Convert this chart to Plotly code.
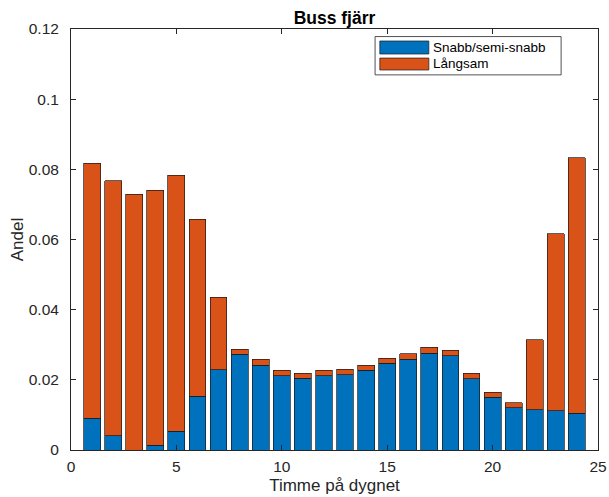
import plotly.graph_objects as go

hours = list(range(1, 25))
snabb = [0.0090, 0.0040, 0.0000, 0.0014, 0.0054, 0.0153, 0.0229, 0.0273,
         0.0242, 0.0211, 0.0204, 0.0211, 0.0214, 0.0227, 0.0247, 0.0259,
         0.0276, 0.0269, 0.0203, 0.0150, 0.0120, 0.0115, 0.0112, 0.0105]
total = [0.0818, 0.0767, 0.0729, 0.0741, 0.0783, 0.0658, 0.0435, 0.0287,
         0.0258, 0.0227, 0.0219, 0.0227, 0.0230, 0.0242, 0.0261, 0.0275,
         0.0293, 0.0284, 0.0219, 0.0164, 0.0135, 0.0314, 0.0616, 0.0833]
langsam = [round(t - s, 4) for t, s in zip(total, snabb)]

series_names = ["Snabb/semi-snabb", "Långsam"]
colors = ["#0072BD", "#D95319"]
x_ticks = [0, 5, 10, 15, 20, 25]
y_ticks = [0, 0.02, 0.04, 0.06, 0.08, 0.1, 0.12]
y_ticktext = ["0", "0.02", "0.04", "0.06", "0.08", "0.1", "0.12"]

FONT = "Liberation Sans, Arial, sans-serif"
TXT = "#262626"

fig = go.Figure()
for name, vals, col in zip(series_names, [snabb, langsam], colors):
    fig.add_trace(go.Bar(x=hours, y=vals, name=name, width=0.8,
                         marker=dict(color=col, line=dict(color="#1a1a1a", width=0.7)),
                         showlegend=False))

fig.update_layout(
    barmode="stack",
    width=609, height=497,
    margin=dict(l=71, r=11, t=29, b=47),
    paper_bgcolor="white", plot_bgcolor="white",
    font=dict(family=FONT, color=TXT, size=15),
    title=dict(text="<b>Buss fjärr</b>", x=0.5, xanchor="center", xref="paper",
               y=1, yref="paper", yanchor="bottom", pad=dict(b=5),
               font=dict(size=17.5, color="black", family=FONT)),
)
fig.update_xaxes(range=[0, 25], tickvals=x_ticks, ticks="inside", ticklen=5,
                 showline=True, linecolor=TXT, linewidth=1, mirror="ticks",
                 tickcolor=TXT, showgrid=False, zeroline=False, automargin=False,
                 ticklabelstandoff=2,
                 title=dict(text="Timme på dygnet", font=dict(size=17), standoff=5),
                 tickfont=dict(size=15.5))
fig.update_yaxes(range=[0, 0.12], tickvals=y_ticks, ticktext=y_ticktext,
                 ticks="inside", ticklen=5,
                 showline=True, linecolor=TXT, linewidth=1, mirror="ticks",
                 tickcolor=TXT, showgrid=False, zeroline=False, automargin=False,
                 ticklabelstandoff=8,
                 title=dict(text="Andel", font=dict(size=17), standoff=0),
                 tickfont=dict(size=15.5))

# legend drawn in paper coordinates
fig.add_shape(type="rect", xref="paper", yref="paper", x0=0.577, x1=0.930,
              y0=0.891, y1=0.982, line=dict(color=TXT, width=0.8), fillcolor="white")
sw_y = [(0.9406, 0.9715), (0.9026, 0.931)]
txt_y = [0.956, 0.917]
for name, col, (y0, y1), ty in zip(series_names, colors, sw_y, txt_y):
    fig.add_shape(type="rect", xref="paper", yref="paper", x0=0.586, x1=0.679,
                  y0=y0, y1=y1, line=dict(color="#1a1a1a", width=0.7), fillcolor=col)
    fig.add_annotation(text=name, xref="paper", yref="paper", x=0.684, y=ty,
                       xanchor="left", yanchor="middle", showarrow=False,
                       font=dict(size=13.5, color="black", family=FONT))

fig.write_html("out.html", config={"displayModeBar": False},
               post_script="document.body.style.margin='0';")
